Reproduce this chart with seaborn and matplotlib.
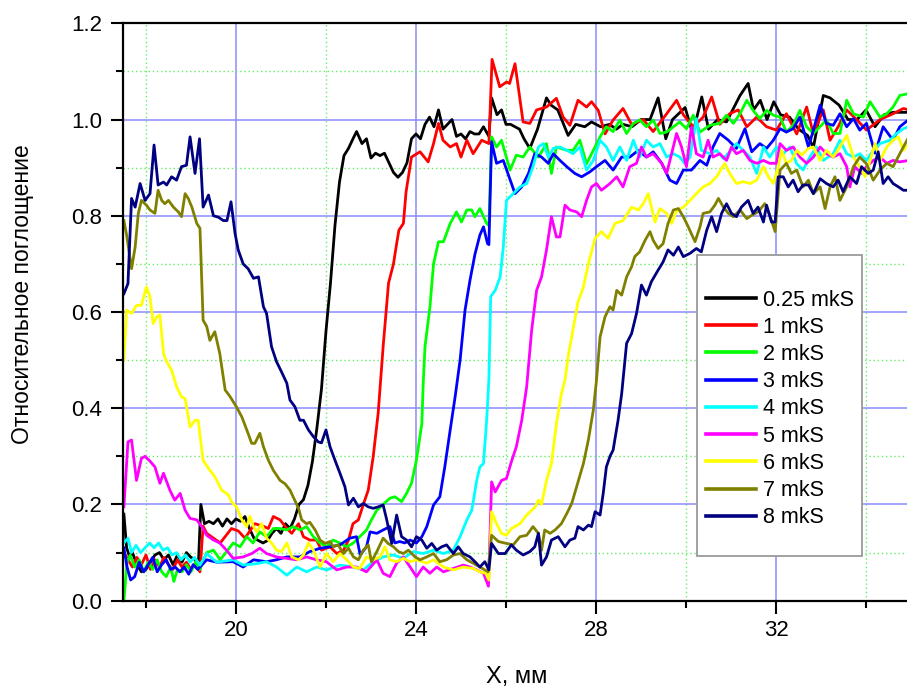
import numpy as np
import pandas as pd
import matplotlib
matplotlib.use("Agg")
import matplotlib.pyplot as plt
from matplotlib.patches import Rectangle
from matplotlib.ticker import FormatStrFormatter
import seaborn as sns

plt.rcParams['font.family'] = ['Liberation Sans', 'DejaVu Sans']

labels = ["0.25 mkS", "1 mkS", "2 mkS", "3 mkS", "4 mkS", "5 mkS", "6 mkS", "7 mkS", "8 mkS"]
colors = ["#000000", "#ff0000", "#00ff00", "#0000ff", "#00ffff", "#ff00ff", "#ffff00", "#808000", "#000080"]

s_025 = [(17.51,0.18),(17.57,0.11),(17.64,0.09),(17.7,0.10),(17.8,0.075),(17.9,0.06),(18.0,0.065),(18.1,0.08),(18.2,0.095),(18.3,0.10),(18.4,0.085),(18.5,0.095),(18.6,0.075),(18.7,0.095),(18.8,0.08),(18.9,0.10),(19.0,0.09),(19.1,0.085),(19.16,0.065),(19.22,0.20),(19.3,0.16),(19.4,0.165),(19.5,0.16),(19.6,0.17),(19.7,0.155),(19.8,0.17),(19.9,0.16),(20.0,0.17),(20.1,0.165),(20.2,0.175),(20.3,0.15),(20.4,0.13),(20.5,0.125),(20.6,0.12),(20.7,0.125),(20.8,0.14),(20.9,0.15),(21.0,0.14),(21.1,0.16),(21.2,0.15),(21.3,0.17),(21.4,0.20),(21.5,0.21),(21.6,0.24),(21.7,0.29),(21.8,0.36),(21.9,0.44),(22.0,0.56),(22.1,0.66),(22.2,0.78),(22.3,0.87),(22.4,0.925),(22.5,0.94),(22.6,0.96),(22.68,0.975),(22.8,0.95),(22.9,0.96),(23.0,0.92),(23.1,0.93),(23.2,0.925),(23.3,0.93),(23.4,0.91),(23.5,0.89),(23.6,0.88),(23.7,0.89),(23.8,0.91),(23.9,0.96),(24.0,0.97),(24.1,0.96),(24.2,0.99),(24.3,1.005),(24.4,0.985),(24.5,1.02),(24.6,0.98),(24.7,0.99),(24.8,1.0),(24.9,0.965),(25.0,0.97),(25.1,0.96),(25.2,0.975),(25.3,0.97),(25.4,0.97),(25.5,0.985),(25.62,0.965),(25.68,1.045),(25.8,1.01),(25.9,1.02),(26.0,0.99),(26.1,0.99),(26.2,0.985),(26.3,0.98),(26.4,0.96),(26.53,0.94),(26.7,0.98),(26.9,1.045),(27.0,1.03),(27.15,1.02),(27.38,0.967),(27.55,0.99),(27.75,0.985),(27.9,0.995),(28.1,0.985),(28.3,0.99),(28.45,0.98),(28.6,0.99),(28.8,0.985),(29.0,1.0),(29.2,1.0),(29.38,1.045),(29.55,0.96),(29.7,1.0),(29.98,1.025),(30.15,0.97),(30.35,1.047),(30.5,0.98),(30.7,1.0),(30.9,0.995),(31.2,1.05),(31.38,1.075),(31.5,1.02),(31.65,1.04),(31.8,1.0),(31.95,1.037),(32.1,1.01),(32.3,1.005),(32.5,0.98),(32.7,0.967),(32.83,0.942),(33.05,1.05),(33.2,1.045),(33.4,1.03),(33.6,1.0),(33.8,1.0),(34.0,1.02),(34.2,0.985),(34.4,1.01),(34.6,1.015),(34.8,1.015),(34.95,1.015)]

s_1 = [(17.51,0.10),(17.6,0.085),(17.7,0.07),(17.8,0.09),(17.9,0.075),(18.0,0.095),(18.1,0.065),(18.2,0.085),(18.3,0.07),(18.4,0.09),(18.5,0.075),(18.6,0.065),(18.7,0.085),(18.8,0.07),(18.9,0.08),(19.0,0.065),(19.1,0.075),(19.2,0.06),(19.27,0.155),(19.35,0.14),(19.5,0.13),(19.65,0.12),(19.9,0.15),(20.05,0.145),(20.2,0.13),(20.42,0.16),(20.6,0.155),(20.72,0.15),(20.83,0.175),(20.98,0.168),(21.13,0.15),(21.24,0.14),(21.39,0.16),(21.5,0.133),(21.64,0.126),(21.79,0.126),(21.9,0.105),(22.09,0.112),(22.24,0.098),(22.39,0.105),(22.5,0.126),(22.6,0.16),(22.72,0.168),(22.83,0.2),(22.94,0.23),(23.05,0.30),(23.16,0.39),(23.27,0.528),(23.39,0.66),(23.5,0.70),(23.57,0.742),(23.62,0.77),(23.72,0.784),(23.78,0.85),(23.9,0.922),(24.09,0.933),(24.27,0.912),(24.39,0.95),(24.5,0.992),(24.6,0.957),(24.76,0.943),(24.9,0.95),(25.0,0.922),(25.13,0.957),(25.27,0.929),(25.46,0.957),(25.62,0.95),(25.69,1.125),(25.86,1.068),(26.01,1.078),(26.08,1.075),(26.2,1.116),(26.38,0.995),(26.53,0.992),(26.68,1.02),(26.9,1.026),(27.12,1.044),(27.27,1.005),(27.42,0.988),(27.6,1.04),(27.79,1.026),(27.9,1.037),(28.05,1.019),(28.2,0.97),(28.38,0.999),(28.6,1.023),(28.79,0.99),(29.05,1.0),(29.27,0.975),(29.57,1.012),(29.79,1.04),(29.94,1.01),(30.16,0.985),(30.38,1.005),(30.57,1.047),(30.75,0.99),(30.97,1.012),(31.16,1.02),(31.35,0.985),(31.57,1.005),(31.79,0.985),(32.01,0.978),(32.23,1.012),(32.46,0.97),(32.68,1.026),(32.83,0.97),(33.05,1.02),(33.2,0.957),(33.38,0.985),(33.57,1.02),(33.79,1.0),(34.01,0.978),(34.31,1.0),(34.6,1.012),(34.83,1.023),(34.95,1.02)]

s_2 = [(17.51,0.0),(17.58,0.08),(17.65,0.095),(17.75,0.07),(17.85,0.085),(17.95,0.06),(18.05,0.08),(18.15,0.065),(18.25,0.085),(18.35,0.06),(18.45,0.05),(18.55,0.07),(18.62,0.04),(18.7,0.065),(18.8,0.06),(18.9,0.075),(19.0,0.06),(19.1,0.08),(19.2,0.065),(19.35,0.10),(19.5,0.105),(19.65,0.085),(19.94,0.12),(20.09,0.112),(20.24,0.133),(20.38,0.12),(20.53,0.143),(20.68,0.133),(20.83,0.15),(20.98,0.15),(21.13,0.147),(21.27,0.154),(21.42,0.147),(21.57,0.154),(21.72,0.133),(21.87,0.12),(22.01,0.112),(22.16,0.126),(22.31,0.12),(22.46,0.112),(22.61,0.12),(22.75,0.133),(22.9,0.147),(23.01,0.168),(23.13,0.188),(23.27,0.20),(23.42,0.213),(23.53,0.216),(23.68,0.206),(23.79,0.223),(23.9,0.244),(24.01,0.292),(24.13,0.368),(24.16,0.45),(24.2,0.528),(24.31,0.611),(24.39,0.70),(24.5,0.746),(24.61,0.746),(24.76,0.784),(24.9,0.808),(25.01,0.787),(25.13,0.812),(25.24,0.812),(25.31,0.798),(25.42,0.815),(25.57,0.784),(25.62,0.78),(25.68,0.964),(25.79,0.943),(25.9,0.957),(26.09,0.895),(26.23,0.926),(26.38,0.922),(26.53,0.943),(26.72,0.922),(26.9,0.95),(27.01,0.888),(27.12,0.943),(27.35,0.936),(27.49,0.936),(27.64,0.957),(27.79,0.908),(27.94,0.936),(28.09,0.964),(28.23,0.985),(28.38,0.975),(28.53,0.999),(28.68,0.971),(28.83,0.992),(28.97,0.999),(29.12,0.985),(29.27,0.999),(29.42,0.971),(29.57,0.974),(29.72,0.985),(29.86,0.995),(30.01,0.981),(30.16,1.009),(30.31,0.974),(30.53,0.988),(30.75,0.992),(30.9,1.009),(31.05,0.992),(31.2,1.012),(31.35,1.04),(31.49,1.019),(31.64,1.002),(31.79,1.019),(31.94,1.009),(32.09,1.005),(32.23,0.974),(32.38,0.988),(32.53,1.019),(32.68,0.985),(32.83,0.971),(33.12,0.999),(33.27,0.971),(33.42,0.971),(33.57,1.04),(33.72,1.012),(33.94,1.005),(34.09,1.037),(34.31,1.005),(34.46,1.012),(34.6,1.026),(34.75,1.05),(34.95,1.054)]

s_3 = [(17.51,0.11),(17.58,0.07),(17.66,0.043),(17.75,0.05),(17.85,0.08),(17.95,0.06),(18.05,0.075),(18.15,0.09),(18.25,0.06),(18.35,0.075),(18.45,0.085),(18.55,0.065),(18.65,0.07),(18.75,0.06),(18.85,0.07),(18.95,0.055),(19.05,0.075),(19.15,0.065),(19.2,0.07),(19.35,0.085),(19.57,0.08),(19.94,0.081),(20.16,0.07),(20.39,0.085),(20.68,0.081),(20.9,0.085),(21.13,0.091),(21.42,0.091),(21.64,0.102),(21.87,0.109),(22.09,0.112),(22.31,0.116),(22.53,0.13),(22.68,0.133),(22.76,0.095),(22.9,0.112),(22.98,0.143),(23.13,0.14),(23.27,0.147),(23.42,0.154),(23.53,0.12),(23.64,0.123),(23.75,0.12),(23.87,0.126),(24.01,0.12),(24.13,0.133),(24.24,0.154),(24.39,0.199),(24.53,0.216),(24.64,0.278),(24.76,0.355),(24.87,0.424),(24.98,0.50),(25.09,0.604),(25.2,0.666),(25.31,0.72),(25.42,0.76),(25.5,0.777),(25.59,0.742),(25.62,0.74),(25.68,0.954),(25.79,0.909),(25.94,0.915),(26.2,0.846),(26.35,0.86),(26.5,0.888),(26.64,0.929),(26.79,0.922),(26.94,0.909),(27.05,0.929),(27.2,0.915),(27.35,0.902),(27.53,0.888),(27.68,0.881),(27.86,0.891),(28.01,0.902),(28.2,0.915),(28.38,0.895),(28.57,0.922),(28.75,0.922),(28.94,0.936),(29.12,0.922),(29.27,0.933),(29.46,0.909),(29.64,0.874),(29.79,0.867),(29.94,0.895),(30.12,0.895),(30.31,0.915),(30.46,0.905),(30.6,0.943),(30.75,0.971),(30.94,0.957),(31.12,0.94),(31.31,0.981),(31.46,0.933),(31.64,0.95),(31.79,0.94),(31.94,0.957),(32.09,0.981),(32.23,0.974),(32.38,0.981),(32.53,1.005),(32.72,0.943),(32.83,0.978),(32.98,1.03),(33.12,0.992),(33.27,0.988),(33.42,1.012),(33.57,0.985),(33.72,1.002),(33.86,0.978),(34.01,0.992),(34.2,0.93),(34.38,0.985),(34.6,0.957),(34.75,0.985),(34.95,1.0)]

s_4 = [(17.51,0.12),(17.6,0.13),(17.68,0.10),(17.78,0.115),(17.88,0.10),(17.98,0.11),(18.08,0.12),(18.18,0.11),(18.28,0.12),(18.38,0.105),(18.48,0.11),(18.58,0.095),(18.68,0.10),(18.78,0.085),(18.88,0.095),(18.98,0.08),(19.08,0.09),(19.2,0.074),(19.35,0.098),(19.57,0.08),(19.94,0.085),(20.16,0.074),(20.46,0.077),(20.68,0.081),(20.9,0.07),(21.13,0.053),(21.35,0.07),(21.57,0.06),(21.79,0.07),(22.01,0.064),(22.31,0.074),(22.61,0.07),(22.83,0.064),(23.05,0.081),(23.27,0.091),(23.5,0.095),(23.72,0.088),(23.94,0.102),(24.16,0.098),(24.39,0.105),(24.61,0.098),(24.83,0.105),(24.98,0.133),(25.13,0.168),(25.24,0.188),(25.35,0.25),(25.42,0.278),(25.5,0.285),(25.57,0.375),(25.62,0.46),(25.66,0.632),(25.76,0.645),(25.87,0.673),(25.94,0.735),(26.01,0.832),(26.16,0.846),(26.31,0.86),(26.46,0.867),(26.6,0.902),(26.72,0.943),(26.83,0.95),(26.94,0.922),(27.05,0.94),(27.2,0.943),(27.35,0.936),(27.49,0.929),(27.64,0.943),(27.79,0.895),(27.94,0.915),(28.09,0.957),(28.23,0.943),(28.38,0.915),(28.53,0.943),(28.68,0.915),(28.83,0.957),(28.97,0.922),(29.12,0.957),(29.27,0.943),(29.42,0.95),(29.57,0.922),(29.72,0.929),(29.86,0.922),(29.98,0.908),(30.09,0.922),(30.23,1.002),(30.34,0.936),(30.53,0.929),(30.68,0.936),(30.83,0.919),(30.97,0.933),(31.12,0.95),(31.27,0.936),(31.42,0.922),(31.57,0.888),(31.72,0.943),(31.86,0.922),(32.01,0.943),(32.16,0.929),(32.31,0.943),(32.46,0.908),(32.6,0.895),(32.75,0.922),(32.9,0.943),(33.05,0.915),(33.27,0.929),(33.42,0.957),(33.57,0.929),(33.72,0.922),(33.86,0.929),(34.01,0.915),(34.16,0.936),(34.31,0.95),(34.53,0.957),(34.68,0.971),(34.83,0.981),(34.95,0.985)]

s_5 = [(17.51,0.195),(17.6,0.33),(17.68,0.334),(17.79,0.25),(17.9,0.296),(17.98,0.30),(18.09,0.29),(18.2,0.278),(18.31,0.244),(18.39,0.265),(18.53,0.23),(18.64,0.209),(18.76,0.223),(18.87,0.188),(18.98,0.171),(19.13,0.168),(19.24,0.154),(19.35,0.136),(19.5,0.126),(19.64,0.12),(19.79,0.105),(19.94,0.088),(20.16,0.091),(20.35,0.098),(20.53,0.109),(20.68,0.098),(20.9,0.091),(21.13,0.088),(21.35,0.085),(21.57,0.091),(21.79,0.085),(22.01,0.081),(22.24,0.064),(22.46,0.07),(22.68,0.07),(22.9,0.06),(23.13,0.085),(23.27,0.057),(23.42,0.05),(23.57,0.078),(23.72,0.091),(23.87,0.07),(24.01,0.05),(24.16,0.07),(24.31,0.057),(24.46,0.07),(24.61,0.06),(24.83,0.067),(25.05,0.074),(25.2,0.07),(25.35,0.064),(25.5,0.057),(25.61,0.03),(25.68,0.247),(25.76,0.226),(25.9,0.25),(26.01,0.254),(26.12,0.289),(26.23,0.32),(26.35,0.375),(26.46,0.445),(26.57,0.562),(26.68,0.645),(26.79,0.673),(26.9,0.729),(27.01,0.798),(27.12,0.756),(27.2,0.756),(27.31,0.822),(27.42,0.812),(27.57,0.808),(27.68,0.798),(27.79,0.832),(27.9,0.86),(28.01,0.867),(28.12,0.853),(28.31,0.867),(28.46,0.881),(28.6,0.86),(28.75,0.902),(28.9,0.909),(29.01,0.943),(29.12,0.922),(29.27,0.929),(29.46,0.909),(29.57,0.888),(29.68,0.929),(29.79,0.971),(29.9,0.943),(30.01,0.902),(30.12,0.985),(30.23,0.929),(30.38,0.922),(30.49,0.957),(30.6,0.922),(30.75,0.929),(30.9,0.915),(31.01,0.943),(31.12,0.929),(31.27,0.936),(31.42,0.915),(31.57,0.909),(31.72,0.915),(31.86,0.909),(32.01,0.909),(32.09,0.95),(32.23,0.936),(32.38,0.943),(32.53,0.922),(32.68,0.909),(32.83,0.922),(32.98,0.943),(33.12,0.929),(33.27,0.922),(33.42,0.929),(33.57,0.902),(33.64,0.86),(33.75,0.902),(33.9,0.888),(34.01,0.902),(34.16,0.915),(34.31,0.922),(34.46,0.909),(34.6,0.915),(34.75,0.912),(34.95,0.915)]

s_6 = [(17.51,0.50),(17.57,0.604),(17.68,0.597),(17.79,0.614),(17.9,0.614),(18.01,0.652),(18.09,0.632),(18.16,0.576),(18.24,0.59),(18.31,0.594),(18.39,0.514),(18.46,0.497),(18.57,0.479),(18.68,0.445),(18.79,0.424),(18.87,0.42),(18.98,0.361),(19.09,0.375),(19.16,0.375),(19.27,0.292),(19.39,0.275),(19.53,0.258),(19.68,0.23),(19.83,0.22),(19.9,0.206),(20.01,0.195),(20.13,0.168),(20.24,0.154),(20.31,0.175),(20.39,0.154),(20.46,0.143),(20.57,0.16),(20.68,0.13),(20.79,0.12),(20.9,0.105),(21.01,0.102),(21.13,0.12),(21.24,0.091),(21.39,0.085),(21.5,0.095),(21.61,0.12),(21.72,0.105),(21.87,0.07),(22.01,0.098),(22.16,0.081),(22.31,0.098),(22.46,0.085),(22.61,0.07),(22.75,0.067),(22.9,0.091),(23.05,0.085),(23.2,0.091),(23.31,0.112),(23.42,0.085),(23.57,0.081),(23.72,0.088),(23.87,0.081),(24.01,0.085),(24.24,0.078),(24.39,0.085),(24.61,0.07),(24.83,0.064),(25.05,0.07),(25.27,0.067),(25.42,0.06),(25.55,0.057),(25.62,0.043),(25.68,0.185),(25.79,0.16),(25.9,0.14),(26.01,0.136),(26.12,0.15),(26.31,0.16),(26.46,0.178),(26.57,0.188),(26.65,0.195),(26.72,0.209),(26.79,0.20),(26.9,0.25),(27.01,0.285),(27.12,0.368),(27.23,0.43),(27.31,0.458),(27.38,0.507),(27.6,0.621),(27.72,0.652),(27.83,0.70),(27.98,0.753),(28.12,0.767),(28.27,0.753),(28.42,0.784),(28.6,0.79),(28.79,0.818),(28.94,0.812),(29.05,0.825),(29.16,0.846),(29.31,0.787),(29.42,0.815),(29.57,0.805),(29.68,0.784),(29.79,0.81),(29.94,0.818),(30.09,0.832),(30.23,0.846),(30.38,0.86),(30.53,0.867),(30.68,0.881),(30.86,0.909),(30.97,0.888),(31.12,0.867),(31.27,0.871),(31.42,0.867),(31.57,0.874),(31.72,0.902),(31.83,0.881),(31.94,0.867),(32.05,0.902),(32.12,0.936),(32.23,0.909),(32.34,0.915),(32.46,0.936),(32.57,0.926),(32.72,0.94),(32.83,0.943),(32.98,0.915),(33.12,0.936),(33.27,0.922),(33.42,0.943),(33.57,0.967),(33.72,0.922),(33.86,0.902),(33.98,0.881),(34.09,0.915),(34.2,0.95),(34.31,0.915),(34.46,0.943),(34.6,0.957),(34.72,0.964),(34.83,0.936),(34.95,0.95)]

s_7 = [(17.51,0.79),(17.57,0.76),(17.68,0.69),(17.76,0.735),(17.83,0.805),(17.9,0.832),(18.01,0.822),(18.09,0.812),(18.2,0.805),(18.27,0.853),(18.35,0.832),(18.42,0.825),(18.5,0.832),(18.61,0.818),(18.72,0.808),(18.79,0.798),(18.87,0.846),(18.94,0.836),(19.02,0.818),(19.13,0.784),(19.2,0.774),(19.27,0.583),(19.35,0.57),(19.42,0.541),(19.53,0.559),(19.64,0.514),(19.76,0.438),(19.87,0.424),(20.01,0.403),(20.13,0.382),(20.24,0.355),(20.35,0.327),(20.42,0.327),(20.53,0.348),(20.61,0.32),(20.72,0.292),(20.83,0.271),(20.98,0.25),(21.09,0.243),(21.2,0.23),(21.27,0.216),(21.39,0.192),(21.46,0.168),(21.57,0.16),(21.64,0.163),(21.76,0.147),(21.87,0.126),(21.98,0.119),(22.09,0.123),(22.16,0.112),(22.27,0.116),(22.39,0.098),(22.5,0.109),(22.61,0.091),(22.72,0.085),(22.83,0.105),(22.94,0.116),(23.01,0.081),(23.13,0.102),(23.27,0.13),(23.38,0.119),(23.5,0.112),(23.61,0.102),(23.72,0.098),(23.83,0.105),(23.98,0.091),(24.09,0.085),(24.24,0.091),(24.39,0.098),(24.53,0.081),(24.68,0.085),(24.83,0.095),(24.98,0.098),(25.13,0.085),(25.27,0.078),(25.42,0.07),(25.6,0.06),(25.68,0.136),(25.83,0.123),(26.01,0.119),(26.16,0.116),(26.31,0.133),(26.46,0.136),(26.6,0.154),(26.72,0.14),(26.79,0.105),(26.86,0.147),(26.98,0.14),(27.09,0.147),(27.23,0.16),(27.35,0.181),(27.46,0.202),(27.57,0.237),(27.72,0.285),(27.83,0.334),(27.94,0.396),(28.01,0.458),(28.09,0.548),(28.2,0.59),(28.31,0.611),(28.38,0.604),(28.46,0.645),(28.57,0.635),(28.68,0.673),(28.79,0.694),(28.86,0.715),(28.97,0.725),(29.09,0.749),(29.2,0.767),(29.27,0.749),(29.38,0.732),(29.49,0.742),(29.6,0.784),(29.72,0.812),(29.83,0.815),(29.94,0.798),(30.05,0.777),(30.2,0.746),(30.31,0.777),(30.38,0.805),(30.53,0.808),(30.64,0.822),(30.72,0.836),(30.83,0.818),(30.94,0.805),(31.05,0.798),(31.2,0.812),(31.35,0.794),(31.46,0.801),(31.6,0.808),(31.75,0.825),(31.86,0.801),(31.98,0.767),(32.09,0.895),(32.23,0.909),(32.34,0.888),(32.46,0.895),(32.6,0.86),(32.72,0.874),(32.83,0.846),(32.98,0.86),(33.09,0.815),(33.2,0.86),(33.31,0.881),(33.42,0.832),(33.57,0.86),(33.72,0.902),(33.86,0.922),(34.01,0.908),(34.16,0.874),(34.31,0.895),(34.46,0.909),(34.6,0.902),(34.75,0.929),(34.95,0.964)]

s_8 = [(17.51,0.638),(17.6,0.659),(17.68,0.836),(17.76,0.818),(17.87,0.867),(17.98,0.832),(18.09,0.846),(18.18,0.947),(18.27,0.864),(18.39,0.87),(18.46,0.864),(18.57,0.881),(18.68,0.874),(18.79,0.902),(18.9,0.905),(18.98,0.964),(19.09,0.888),(19.19,0.96),(19.27,0.818),(19.39,0.843),(19.5,0.80),(19.61,0.797),(19.72,0.79),(19.8,0.79),(19.89,0.829),(19.98,0.763),(20.05,0.729),(20.16,0.70),(20.27,0.69),(20.39,0.67),(20.5,0.673),(20.61,0.611),(20.68,0.597),(20.79,0.528),(20.9,0.497),(21.01,0.476),(21.13,0.452),(21.2,0.417),(21.31,0.403),(21.42,0.375),(21.5,0.375),(21.61,0.355),(21.72,0.341),(21.83,0.33),(21.9,0.328),(22.0,0.355),(22.09,0.32),(22.2,0.292),(22.31,0.265),(22.42,0.237),(22.5,0.199),(22.61,0.213),(22.72,0.195),(22.83,0.202),(22.94,0.195),(23.05,0.192),(23.16,0.195),(23.27,0.199),(23.35,0.168),(23.46,0.119),(23.57,0.178),(23.68,0.133),(23.79,0.126),(23.9,0.112),(24.01,0.133),(24.13,0.126),(24.24,0.109),(24.35,0.119),(24.46,0.105),(24.57,0.112),(24.68,0.116),(24.83,0.098),(24.94,0.112),(25.05,0.098),(25.2,0.091),(25.31,0.081),(25.42,0.07),(25.53,0.081),(25.62,0.064),(25.68,0.119),(25.83,0.098),(25.98,0.098),(26.12,0.116),(26.23,0.105),(26.38,0.095),(26.53,0.102),(26.64,0.112),(26.72,0.14),(26.79,0.074),(26.9,0.091),(27.01,0.126),(27.16,0.133),(27.31,0.112),(27.42,0.126),(27.53,0.13),(27.6,0.154),(27.72,0.147),(27.83,0.157),(27.9,0.154),(27.98,0.185),(28.09,0.178),(28.16,0.223),(28.23,0.278),(28.31,0.30),(28.38,0.313),(28.49,0.375),(28.57,0.43),(28.68,0.535),(28.79,0.555),(28.9,0.597),(29.01,0.656),(29.12,0.635),(29.23,0.663),(29.38,0.687),(29.49,0.704),(29.6,0.729),(29.72,0.718),(29.83,0.735),(29.94,0.715),(30.09,0.722),(30.23,0.732),(30.34,0.725),(30.46,0.77),(30.57,0.798),(30.68,0.767),(30.79,0.805),(30.9,0.825),(31.01,0.805),(31.12,0.798),(31.23,0.818),(31.38,0.832),(31.49,0.805),(31.6,0.818),(31.72,0.787),(31.79,0.822),(31.9,0.787),(31.98,0.787),(32.05,0.881),(32.16,0.881),(32.27,0.86),(32.38,0.874),(32.49,0.85),(32.6,0.864),(32.72,0.864),(32.83,0.846),(32.98,0.877),(33.12,0.867),(33.27,0.86),(33.38,0.874),(33.49,0.85),(33.64,0.881),(33.79,0.867),(33.9,0.902),(34.05,0.888),(34.16,0.895),(34.27,0.933),(34.38,0.867),(34.49,0.881),(34.6,0.867),(34.72,0.86),(34.83,0.853),(34.95,0.853)]

series = [s_025, s_1, s_2, s_3, s_4, s_5, s_6, s_7, s_8]

x_ticks = [20, 24, 28, 32]
x_minor = [18, 22, 26, 30, 34]
y_ticks = [0.0, 0.2, 0.4, 0.6, 0.8, 1.0, 1.2]
y_minor = [0.1, 0.3, 0.5, 0.7, 0.9, 1.1]

rows = []
for lab, pts in zip(labels, series):
    for xv, yv in pts:
        rows.append({"x": xv, "y": yv, "series": lab})
df = pd.DataFrame(rows)

W, H = 907, 689
fig = plt.figure(figsize=(W / 100, H / 100), dpi=100)
ax = fig.add_axes([123 / W, (H - 600.7) / H, (W - 123) / W, (600.7 - 23.3) / H])

sns.lineplot(data=df, x="x", y="y", hue="series", hue_order=labels,
             palette=dict(zip(labels, colors)), estimator=None, sort=False,
             units="series", linewidth=2.0, ax=ax, legend=True)

ax.set_xlim(17.49, 34.91)
ax.set_ylim(0, 1.2)
ax.set_xticks(x_ticks)
ax.set_xticks(x_minor, minor=True)
ax.set_yticks(y_ticks)
ax.set_yticks(y_minor, minor=True)
ax.yaxis.set_major_formatter(FormatStrFormatter('%.1f'))

ax.set_axisbelow(True)
ax.grid(which='major', color='#8c8cff', linewidth=1.1, linestyle='-')
ax.grid(which='minor', color='#66ee66', linewidth=1.0, linestyle=(0, (1, 2)))

for side in ['left', 'bottom', 'top']:
    ax.spines[side].set_linewidth(1.6)
    ax.spines[side].set_color('black')
ax.spines['right'].set_visible(False)

ax.tick_params(which='major', direction='out', length=9, width=1.5, labelsize=16, pad=5, colors='black')
ax.tick_params(which='minor', direction='out', length=5, width=1.5)
ax.tick_params(axis='y', which='major', pad=6)
ax.tick_params(top=False, right=False, which='both')

ax.set_xlabel("X, мм", fontsize=17, va='center')
ax.xaxis.set_label_coords((517 - 123) / 784, (600.7 - 677) / 577.4)
ax.set_ylabel("Относительное поглощение", fontsize=16.5, va='center')
ax.yaxis.set_label_coords((23 - 123) / 784, (600.7 - 294) / 577.4)

handles, labs = ax.get_legend_handles_labels()
ax.get_legend().remove()
leg = fig.legend(handles, labs, loc='upper left',
                 bbox_to_anchor=(706 / W, (H - 289.5) / H), frameon=False,
                 fontsize=15.5, handlelength=2.33, handletextpad=0.33,
                 labelspacing=0.29, borderpad=0, borderaxespad=0)
for lh in leg.get_lines():
    lh.set_linewidth(2.6)

fig.patches.append(Rectangle((697 / W, (H - 556) / H), 165 / W, 301 / H,
                             transform=fig.transFigure, facecolor='white',
                             edgecolor='#9a9a9a', linewidth=1.3, zorder=3))
leg.set_zorder(4)

fig.savefig("out.png", dpi=100)
